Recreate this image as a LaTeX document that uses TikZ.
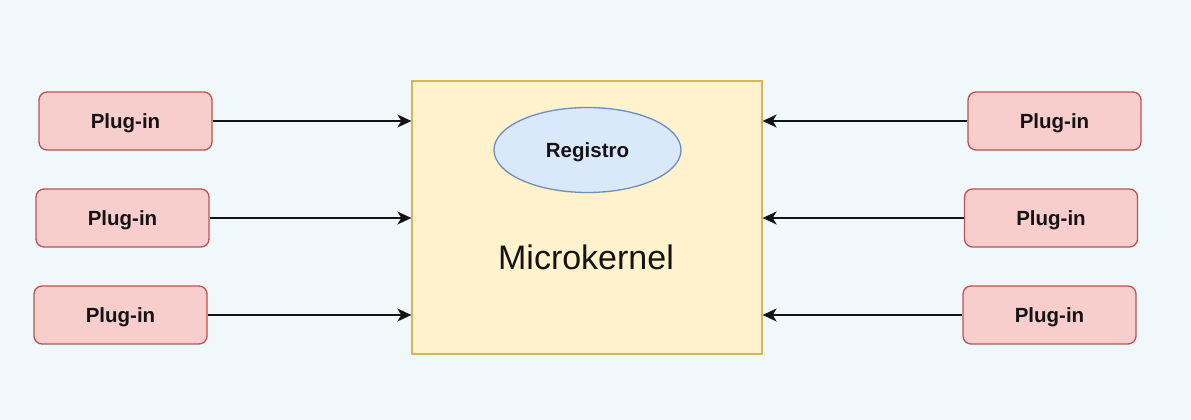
\documentclass[tikz,border=0pt]{standalone}
\usepackage{fontspec}
\setmainfont{Liberation Sans}
\usetikzlibrary{arrows.meta,shapes.geometric}
\definecolor{bgc}{RGB}{240,248,252}
\definecolor{plugfill}{HTML}{F8CECC}
\definecolor{plugdraw}{HTML}{B85450}
\definecolor{kfill}{HTML}{FFF2CC}
\definecolor{kdraw}{HTML}{D6B656}
\definecolor{efill}{HTML}{DAE8FC}
\definecolor{edraw}{HTML}{6C8EBF}
\definecolor{txt}{RGB}{20,20,20}
\begin{document}
\begin{tikzpicture}[x=1pt,y=-1pt,
  plugbox/.style={draw=plugdraw,fill=plugfill,line width=1.3pt,rounded corners=8pt,
    minimum width=173pt,minimum height=58pt,inner sep=0pt,text=txt,
    text height=14.7pt,text depth=0pt,
    font=\fontsize{20.5}{24}\selectfont\bfseries},
  conn/.style={line width=1.6pt,color=txt,-{Stealth[length=14pt,width=13pt,inset=4pt]}}
]
\fill[bgc] (0,0) rectangle (1191,420);
\useasboundingbox (0,0) rectangle (1191,420);
\node[draw=kdraw,fill=kfill,line width=1.3pt,minimum width=350pt,minimum height=273pt,inner sep=0pt] (mk) at (587,217.5) {};
\node[ellipse,draw=edraw,fill=efill,line width=1.3pt,minimum width=187pt,minimum height=85pt,inner sep=0pt,text=txt,text height=14.7pt,text depth=0pt,font=\fontsize{20.5}{24}\selectfont\bfseries] (reg) at (587.5,150) {Registro};
\node[text=txt,font=\fontsize{34}{38}\selectfont,inner sep=0pt,text height=24.5pt,text depth=0pt] (mktext) at (586,257) {Microkernel};
\node[plugbox] (l1) at (125.5,121) {Plug-in};
\node[plugbox] (l2) at (122.5,218) {Plug-in};
\node[plugbox] (l3) at (120.5,315) {Plug-in};
\node[plugbox] (r1) at (1054.5,121) {Plug-in};
\node[plugbox] (r2) at (1051,218) {Plug-in};
\node[plugbox] (r3) at (1049.5,315) {Plug-in};
\draw[conn] (l1.east) -- (mk.west |- l1.east);
\draw[conn] (l2.east) -- (mk.west |- l2.east);
\draw[conn] (l3.east) -- (mk.west |- l3.east);
\draw[conn] (r1.west) -- (mk.east |- r1.west);
\draw[conn] (r2.west) -- (mk.east |- r2.west);
\draw[conn] (r3.west) -- (mk.east |- r3.west);
\end{tikzpicture}
\end{document}
